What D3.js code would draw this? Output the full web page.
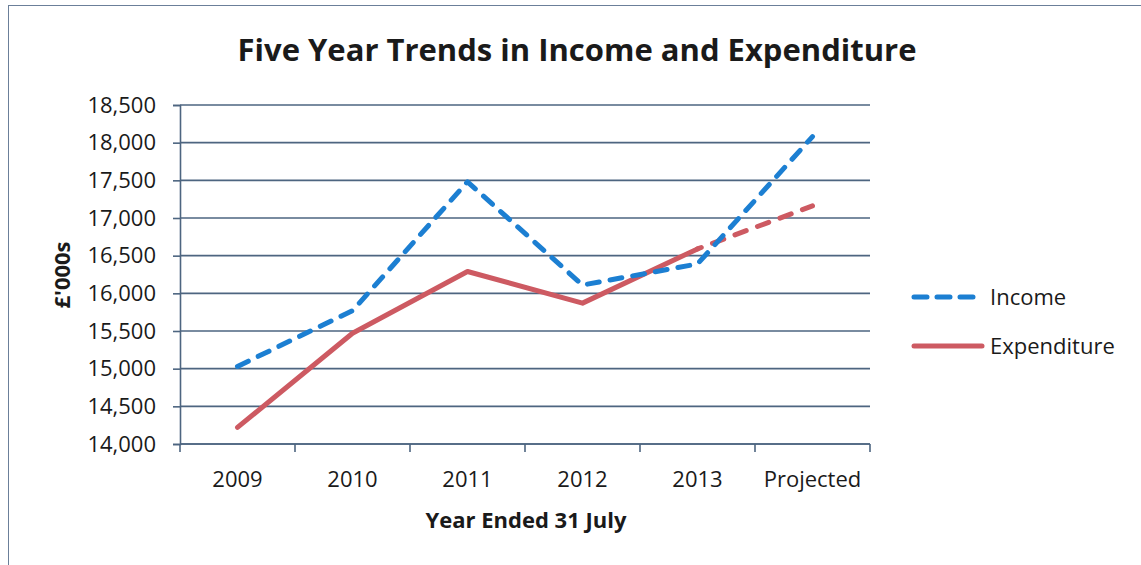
<!DOCTYPE html>
<html>
<head>
<meta charset="utf-8">
<script src="https://cdn.jsdelivr.net/npm/d3@7"></script>
<style>
  html, body { margin: 0; padding: 0; background: #fff; }
  svg text { font-family: "Open Sans", "Noto Sans", sans-serif; fill: #1a1a1a; }
</style>
</head>
<body>
<svg id="chart" width="1141" height="565"></svg>
<script>
// Categories and series (£'000s)
const categories = ["2009", "2010", "2011", "2012", "2013", "Projected"];
const income      = [15030, 15770, 17480, 16110, 16390, 18080];
const expenditure = [14220, 15470, 16290, 15870, 16590, 17160];
const yTicks = [14000, 14500, 15000, 15500, 16000, 16500, 17000, 17500, 18000, 18500];

const svg = d3.select("#chart");
const W = 1141, H = 565;
const plot = { left: 180, right: 870, top: 105, bottom: 444 };

// Outer chart frame
svg.append("rect")
  .attr("x", 8.5).attr("y", 5.5)
  .attr("width", W + 20).attr("height", H + 20)
  .attr("fill", "none").attr("stroke", "#6b7f99").attr("stroke-width", 1);

const x = d3.scaleBand().domain(categories).range([plot.left, plot.right]).padding(0);
const y = d3.scaleLinear().domain([14000, 18500]).range([plot.bottom, plot.top]);
const cx = d => x(d) + x.bandwidth() / 2;

// Horizontal gridlines
svg.append("g").selectAll("line").data(yTicks).join("line")
  .attr("x1", plot.left).attr("x2", plot.right)
  .attr("y1", d => y(d)).attr("y2", d => y(d))
  .attr("stroke", "#4d6580").attr("stroke-width", 1.6);

// Y axis
const yAxis = svg.append("g").attr("transform", `translate(${plot.left},0)`)
  .call(d3.axisLeft(y).tickValues(yTicks).tickFormat(d3.format(",")).tickSize(7).tickPadding(17));
yAxis.select(".domain").attr("stroke", "#4d6580").attr("stroke-width", 1.6);
yAxis.selectAll(".tick line").attr("stroke", "#4d6580").attr("stroke-width", 1.6);
yAxis.selectAll("text").attr("font-size", 22).attr("fill", "#1a1a1a")
  .attr("font-family", "'Open Sans', sans-serif");

// X axis with ticks on category boundaries
const xAxisG = svg.append("g").attr("transform", `translate(0,${plot.bottom})`);
xAxisG.append("line").attr("x1", plot.left).attr("x2", plot.right)
  .attr("stroke", "#4d6580").attr("stroke-width", 1.6);
const bounds = categories.map(c => x(c)).concat([plot.right]);
xAxisG.selectAll(".bt").data(bounds).join("line").attr("class", "bt")
  .attr("x1", d => d).attr("x2", d => d).attr("y1", 0).attr("y2", 8)
  .attr("stroke", "#4d6580").attr("stroke-width", 1.6);
xAxisG.selectAll(".cl").data(categories).join("text").attr("class", "cl")
  .attr("x", d => cx(d)).attr("y", 43)
  .attr("text-anchor", "middle").attr("font-size", 22).text(d => d);

// Axis titles
svg.append("text").attr("x", (plot.left + plot.right) / 2 + 1).attr("y", 528)
  .attr("text-anchor", "middle").attr("font-size", 22).attr("font-weight", "bold")
  .text("Year Ended 31 July");
svg.append("text").attr("transform", `translate(70,275) rotate(-90)`)
  .attr("text-anchor", "middle").attr("font-size", 22).attr("font-weight", "bold")
  .text("£'000s");

// Title
svg.append("text").attr("x", 577).attr("y", 61)
  .attr("text-anchor", "middle").attr("font-size", 31).attr("font-weight", "bold")
  .text("Five Year Trends in Income and Expenditure");

const blue = "#1c7fd2", red = "#cd5a62";
const line = d3.line().x(d => cx(d.c)).y(d => y(d.v));
const incPts = categories.map((c, i) => ({ c, v: income[i] }));
const expPts = categories.map((c, i) => ({ c, v: expenditure[i] }));

// Expenditure: solid for actual years, dashed to the projection
svg.append("path").datum(expPts.slice(0, 5)).attr("d", line)
  .attr("fill", "none").attr("stroke", red).attr("stroke-width", 5)
  .attr("stroke-linejoin", "round").attr("stroke-linecap", "round");
svg.append("path").datum(expPts.slice(4)).attr("d", line)
  .attr("fill", "none").attr("stroke", red).attr("stroke-width", 5)
  .attr("stroke-dasharray", "12,12").attr("stroke-dashoffset", -16)
  .attr("stroke-linecap", "round");

// Income: dashed throughout
svg.append("path").datum(incPts).attr("d", line)
  .attr("fill", "none").attr("stroke", blue).attr("stroke-width", 5)
  .attr("stroke-dasharray", "12,11").attr("stroke-linecap", "round")
  .attr("stroke-linejoin", "round");

// Legend
const lg = svg.append("g");
lg.append("line").attr("x1", 914).attr("x2", 974).attr("y1", 297).attr("y2", 297)
  .attr("stroke", blue).attr("stroke-width", 5)
  .attr("stroke-dasharray", "13,10").attr("stroke-linecap", "round");
lg.append("text").attr("x", 990).attr("y", 305).attr("font-size", 22).text("Income");
lg.append("line").attr("x1", 914).attr("x2", 982).attr("y1", 346).attr("y2", 346)
  .attr("stroke", red).attr("stroke-width", 5).attr("stroke-linecap", "round");
lg.append("text").attr("x", 990).attr("y", 354).attr("font-size", 22).text("Expenditure");
</script>
</body>
</html>
